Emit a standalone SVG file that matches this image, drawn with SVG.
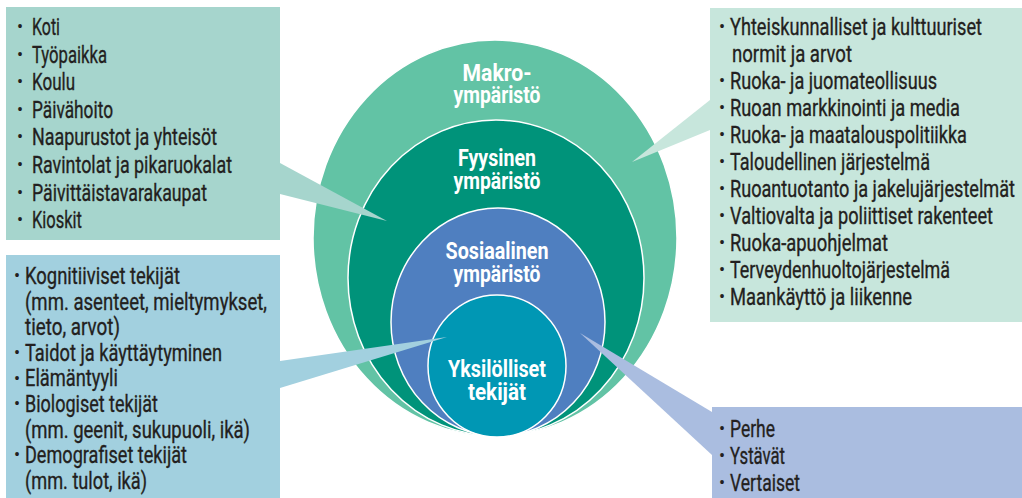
<svg xmlns="http://www.w3.org/2000/svg" width="1022" height="498" viewBox="0 0 1022 498">
  <style>
    .item { font-family: Roboto, "DejaVu Sans Condensed", sans-serif; font-size: 23.5px; fill: #231f20; stroke: #231f20; stroke-width: 0.35; }
    .dot { font-family: Roboto, "DejaVu Sans", sans-serif; font-size: 18px; fill: #231f20; text-anchor: middle; }
    .label { font-family: Roboto, "DejaVu Sans Condensed", sans-serif; font-size: 23.5px; font-weight: bold; fill: #ffffff; text-anchor: middle; }
    .ring { stroke: #ffffff; stroke-width: 1.5; }
  </style>

  <!-- nested environment ellipses, outermost first -->
  <g id="makro">
    <ellipse class="ring" cx="495" cy="238" rx="182" ry="198" fill="#62c3a5"/>
    <text class="label" x="497" y="81" textLength="69" lengthAdjust="spacingAndGlyphs">Makro-</text>
    <text class="label" x="497" y="103" textLength="87" lengthAdjust="spacingAndGlyphs">ympäristö</text>
  </g>
  <g id="fyysinen">
    <ellipse class="ring" cx="496" cy="278" rx="148" ry="158" fill="#00937a"/>
    <text class="label" x="497" y="166" textLength="78" lengthAdjust="spacingAndGlyphs">Fyysinen</text>
    <text class="label" x="497" y="189" textLength="87" lengthAdjust="spacingAndGlyphs">ympäristö</text>
  </g>
  <g id="sosiaalinen">
    <ellipse class="ring" cx="498" cy="322" rx="107" ry="114" fill="#4f7fc0"/>
    <text class="label" x="497" y="259" textLength="103" lengthAdjust="spacingAndGlyphs">Sosiaalinen</text>
    <text class="label" x="497" y="282" textLength="87" lengthAdjust="spacingAndGlyphs">ympäristö</text>
  </g>
  <g id="yksilolliset">
    <ellipse class="ring" cx="497" cy="366" rx="69" ry="71" fill="#0097b4"/>
    <text class="label" x="497" y="377" textLength="98" lengthAdjust="spacingAndGlyphs">Yksilölliset</text>
    <text class="label" x="497" y="400" textLength="58" lengthAdjust="spacingAndGlyphs">tekijät</text>
  </g>

  <!-- callout wedges linking boxes to rings -->
  <g id="connectors">
    <polygon points="280,163 280,194 387,221" fill="#a6d5cd"/>
    <polygon points="710,100 710,130 632,162" fill="#c7e6dc"/>
    <polygon points="280,361 280,388 447,337" fill="#a2d0df"/>
    <polygon points="712,412 712,455 580,333" fill="#aabde0"/>
  </g>

  <g id="box-fyysinen">
    <rect x="6" y="7" width="274" height="233" fill="#a6d5cd"/>
    <text class="dot" x="20" y="33">•</text>
    <text class="dot" x="20" y="60.6">•</text>
    <text class="dot" x="20" y="88.2">•</text>
    <text class="dot" x="20" y="115.8">•</text>
    <text class="dot" x="20" y="143.4">•</text>
    <text class="dot" x="20" y="171">•</text>
    <text class="dot" x="20" y="198.6">•</text>
    <text class="dot" x="20" y="226.2">•</text>
    <text class="item" x="32" y="35" textLength="28" lengthAdjust="spacingAndGlyphs">Koti</text>
    <text class="item" x="32" y="62.6" textLength="75" lengthAdjust="spacingAndGlyphs">Työpaikka</text>
    <text class="item" x="32" y="90.2" textLength="43" lengthAdjust="spacingAndGlyphs">Koulu</text>
    <text class="item" x="32" y="117.8" textLength="81" lengthAdjust="spacingAndGlyphs">Päivähoito</text>
    <text class="item" x="32" y="145.4" textLength="185" lengthAdjust="spacingAndGlyphs">Naapurustot ja yhteisöt</text>
    <text class="item" x="32" y="173" textLength="200" lengthAdjust="spacingAndGlyphs">Ravintolat ja pikaruokalat</text>
    <text class="item" x="32" y="200.6" textLength="175" lengthAdjust="spacingAndGlyphs">Päivittäistavarakaupat</text>
    <text class="item" x="32" y="228.2" textLength="50" lengthAdjust="spacingAndGlyphs">Kioskit</text>
  </g>

  <g id="box-makro">
    <rect x="710" y="8" width="312" height="314" fill="#c7e6dc"/>
    <text class="dot" x="722" y="33">•</text>
    <text class="dot" x="722" y="87">•</text>
    <text class="dot" x="722" y="114">•</text>
    <text class="dot" x="722" y="141">•</text>
    <text class="dot" x="722" y="168">•</text>
    <text class="dot" x="722" y="195">•</text>
    <text class="dot" x="722" y="222">•</text>
    <text class="dot" x="722" y="249">•</text>
    <text class="dot" x="722" y="276">•</text>
    <text class="dot" x="722" y="303">•</text>
    <text class="item" x="730" y="35" textLength="252" lengthAdjust="spacingAndGlyphs">Yhteiskunnalliset ja kulttuuriset</text>
    <text class="item" x="732" y="62" textLength="120" lengthAdjust="spacingAndGlyphs">normit ja arvot</text>
    <text class="item" x="730" y="89" textLength="207" lengthAdjust="spacingAndGlyphs">Ruoka- ja juomateollisuus</text>
    <text class="item" x="730" y="116" textLength="230" lengthAdjust="spacingAndGlyphs">Ruoan markkinointi ja media</text>
    <text class="item" x="730" y="143" textLength="237" lengthAdjust="spacingAndGlyphs">Ruoka- ja maatalouspolitiikka</text>
    <text class="item" x="730" y="170" textLength="200" lengthAdjust="spacingAndGlyphs">Taloudellinen järjestelmä</text>
    <text class="item" x="730" y="197" textLength="285" lengthAdjust="spacingAndGlyphs">Ruoantuotanto ja jakelujärjestelmät</text>
    <text class="item" x="730" y="224" textLength="263" lengthAdjust="spacingAndGlyphs">Valtiovalta ja poliittiset rakenteet</text>
    <text class="item" x="730" y="251" textLength="158" lengthAdjust="spacingAndGlyphs">Ruoka-apuohjelmat</text>
    <text class="item" x="730" y="278" textLength="220" lengthAdjust="spacingAndGlyphs">Terveydenhuoltojärjestelmä</text>
    <text class="item" x="730" y="305" textLength="182" lengthAdjust="spacingAndGlyphs">Maankäyttö ja liikenne</text>
  </g>

  <g id="box-yksilo">
    <rect x="6" y="255" width="274" height="243" fill="#a2d0df"/>
    <text class="dot" x="17" y="282">•</text>
    <text class="dot" x="17" y="359">•</text>
    <text class="dot" x="17" y="384.6">•</text>
    <text class="dot" x="17" y="410.2">•</text>
    <text class="dot" x="17" y="461.4">•</text>
    <text class="item" x="25" y="284" textLength="155" lengthAdjust="spacingAndGlyphs">Kognitiiviset tekijät</text>
    <text class="item" x="25" y="309.6" textLength="242" lengthAdjust="spacingAndGlyphs">(mm. asenteet, mieltymykset,</text>
    <text class="item" x="25" y="335.2" textLength="95" lengthAdjust="spacingAndGlyphs">tieto, arvot)</text>
    <text class="item" x="25" y="360.8" textLength="197" lengthAdjust="spacingAndGlyphs">Taidot ja käyttäytyminen</text>
    <text class="item" x="25" y="386.4" textLength="93" lengthAdjust="spacingAndGlyphs">Elämäntyyli</text>
    <text class="item" x="25" y="412" textLength="133" lengthAdjust="spacingAndGlyphs">Biologiset tekijät</text>
    <text class="item" x="25" y="437.6" textLength="225" lengthAdjust="spacingAndGlyphs">(mm. geenit, sukupuoli, ikä)</text>
    <text class="item" x="25" y="463.2" textLength="162" lengthAdjust="spacingAndGlyphs">Demografiset tekijät</text>
    <text class="item" x="25" y="488.8" textLength="122" lengthAdjust="spacingAndGlyphs">(mm. tulot, ikä)</text>
  </g>

  <g id="box-sosiaalinen">
    <rect x="712" y="407" width="310" height="91" fill="#aabde0"/>
    <text class="dot" x="722" y="435">•</text>
    <text class="dot" x="722" y="462">•</text>
    <text class="dot" x="722" y="489">•</text>
    <text class="item" x="730" y="437" textLength="45" lengthAdjust="spacingAndGlyphs">Perhe</text>
    <text class="item" x="730" y="464" textLength="55" lengthAdjust="spacingAndGlyphs">Ystävät</text>
    <text class="item" x="730" y="491" textLength="70" lengthAdjust="spacingAndGlyphs">Vertaiset</text>
  </g>
</svg>
